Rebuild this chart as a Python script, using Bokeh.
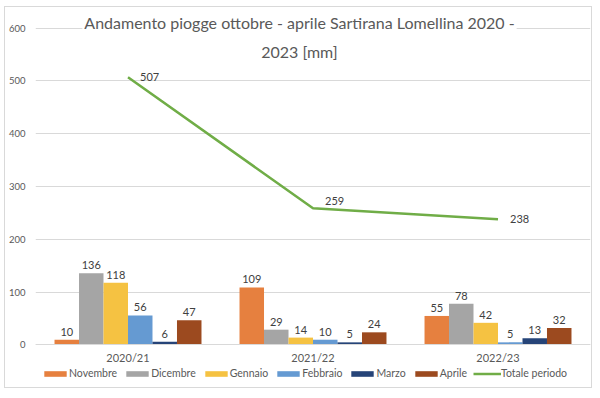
from bokeh.plotting import figure
from bokeh.models import ColumnDataSource, FactorRange, Range1d, Legend, LegendItem, Label, FixedTicker
from bokeh.transform import dodge
from bokeh.core.properties import value
from bokeh.embed import file_html
from bokeh.resources import INLINE

# ---- data ----
seasons = ["2020/21", "2021/22", "2022/23"]
months = ["Novembre", "Dicembre", "Gennaio", "Febbraio", "Marzo", "Aprile"]
novembre = [10, 109, 55]
dicembre = [136, 29, 78]
gennaio = [118, 14, 42]
febbraio = [56, 10, 5]
marzo = [6, 5, 13]
aprile = [47, 24, 32]
totale = [507, 259, 238]
y_ticks = [0, 100, 200, 300, 400, 500, 600]
title_lines = ["Andamento piogge ottobre - aprile Sartirana Lomellina 2020 -", "2023 [mm]"]

# ---- styles ----
series = [novembre, dicembre, gennaio, febbraio, marzo, aprile]
colors = ["#E6803F", "#A5A5A5", "#F5C242", "#659AD2", "#264478", "#9C4A1F"]
line_color = "#70AD47"
tot_label_dy = [0, -7, 0]
FONT = "Lato"

# frame spans the whole chart box; the category axis sits at y=0 inside it
p = figure(x_range=FactorRange(*seasons, range_padding=0), y_range=Range1d(-82.4, 633.5),
           width=588, height=382, output_backend="svg", toolbar_location=None,
           min_border_left=28, min_border_right=3, min_border_top=3, min_border_bottom=1,
           styles={"border": "1px solid #d9d9d9", "margin-left": "4px", "margin-top": "6px"})
p.outline_line_color = None
p.xgrid.grid_line_color = None
p.ygrid.grid_line_color = "#d9d9d9"
p.yaxis.ticker = FixedTicker(ticks=y_ticks)
p.yaxis.axis_line_color = None
p.yaxis.major_tick_line_color = None
p.yaxis.minor_tick_line_color = None
p.yaxis.major_tick_out = 0
p.yaxis.major_label_standoff = 10
p.yaxis.major_label_text_font = FONT
p.yaxis.major_label_text_font_size = "9.5px"
p.yaxis.major_label_text_color = "#595959"
p.xaxis.fixed_location = 0
p.xaxis.axis_line_color = "#d9d9d9"
p.xaxis.major_tick_line_color = None
p.xaxis.minor_tick_line_color = None
p.xaxis.major_tick_out = 0
p.xaxis.major_label_standoff = 6
p.xaxis.major_label_text_font = FONT
p.xaxis.major_label_text_font_size = "11px"
p.xaxis.major_label_text_color = "#595959"

bw = 0.1324
data = {"season": seasons, "totale": totale, "tot_dy": tot_label_dy}
for m, s in zip(months, series):
    data[m] = s
    data[m + "_lbl"] = [str(v) for v in s]
data["tot_lbl"] = [str(v) for v in totale]
src = ColumnDataSource(data)

items = []
for i, (m, c) in enumerate(zip(months, colors)):
    off = (i - 2.5) * bw
    r = p.vbar(x=dodge("season", off, range=p.x_range), top=m, width=bw, source=src,
               fill_color=c, line_color=None)
    p.text(x=dodge("season", off, range=p.x_range), y=m, text=m + "_lbl", source=src,
           text_align="center", text_baseline="bottom", y_offset=-4,
           text_font=value(FONT), text_font_size="11px", text_color="#404040")
    items.append(LegendItem(label=m, renderers=[r]))

lr = p.line(x="season", y="totale", source=src, line_color=line_color, line_width=2.5)
p.text(x="season", y="totale", text="tot_lbl", source=src, text_align="left",
       text_baseline="middle", x_offset=12, y_offset="tot_dy",
       text_font=value(FONT), text_font_size="11px", text_color="#404040")
items.append(LegendItem(label="Totale periodo", renderers=[lr]))

legend = Legend(items=items, orientation="horizontal", location=(6, 9),
                glyph_width=28, glyph_height=7, label_standoff=0, spacing=6,
                padding=0, margin=0, border_line_color=None, background_fill_alpha=0,
                label_text_font=FONT, label_text_font_size="10.5px", label_text_color="#595959")
p.add_layout(legend, "center")

for txt, yv in zip(title_lines, [611, 556]):
    p.add_layout(Label(x=1.427, y=yv, text=txt, text_align="center", text_baseline="middle",
                       text_font=FONT, text_font_size="16px", text_color="#595959",
                       background_fill_color="white", padding=2))

open("out.html", "w").write(file_html(p, INLINE))
